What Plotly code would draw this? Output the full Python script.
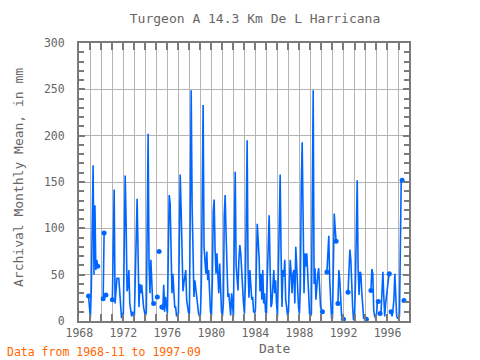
import numpy as np
import pandas as pd
import plotly.graph_objects as go

nan = None
# Monthly values (mm), Jan..Dec per year; 1968 starts in Nov, 1997 ends in Sep
y1968 = [27, 14]
y1969 = [3, 35, 116, 168, 50, 125, 55, 66, 59, nan, nan, nan]
y1970 = [nan, nan, 24, 95, nan, 28, nan, nan, nan, nan, nan, nan]
y1971 = [23, 83, 142, 19, 40, 46, 46, 46, 32, 15, 3, 8]
y1972 = [8, 84, 157, 107, 32, 37, 55, 19, 10, 5, 10, 6]
y1973 = [6, 59, 120, 132, 78, 15, 40, 30, 39, 23, 15, 10]
y1974 = [5, 10, 113, 202, 62, 30, 66, 35, 19, 19, nan, nan]
y1975 = [nan, 26, nan, 75, nan, nan, 15, 12, 39, 10, 26, 15]
y1976 = [8, 73, 136, 127, 57, 30, 51, 37, 15, 15, 5, 7]
y1977 = [8, 87, 158, 120, 59, 32, 41, 48, 55, 23, 12, 9]
y1978 = [8, 131, 249, 123, 51, 26, 44, 33, 30, 15, 8, 5]
y1979 = [6, 41, 158, 233, 80, 60, 51, 75, 44, 55, 26, 10]
y1980 = [5, 44, 118, 131, 78, 51, 73, 50, 30, 62, 23, 10]
y1981 = [5, 19, 113, 136, 95, 44, 26, 30, 19, 6, 30, 12]
y1982 = [5, 100, 161, 60, 40, 33, 66, 82, 73, 51, 30, 19]
y1983 = [8, 40, 111, 195, 55, 25, 55, 30, 23, 26, 10, 9]
y1984 = [12, 59, 105, 87, 69, 32, 51, 23, 55, 19, 30, 10]
y1985 = [8, 51, 95, 114, 59, 15, 19, 48, 55, 30, 44, 19]
y1986 = [5, 55, 134, 158, 73, 15, 55, 48, 66, 23, 15, 6]
y1987 = [10, 37, 66, 51, 30, 51, 55, 19, 80, 59, 30, 15]
y1988 = [8, 37, 145, 193, 113, 30, 73, 59, 73, 51, 26, 8]
y1989 = [5, 8, 131, 249, 40, 57, 23, 44, 51, 57, 40, 15]
y1990 = [12, 10, nan, nan, nan, nan, 53, 75, 92, 45, 10, 3]
y1991 = [3, 59, 116, 100, 86, nan, 19, 55, 44, 26, 5, 3]
y1992 = [2, nan, nan, nan, nan, 31, 53, 77, 66, 33, 15, 1]
y1993 = [3, 40, 109, 152, 57, 28, 53, 51, 30, 10, 3, 3]
y1994 = [2, 2, nan, nan, nan, nan, 33, 56, 51, 12, 5, 3]
y1995 = [6, 21, 21, nan, 8, 10, 30, 53, 26, 5, 19, 30]
y1996 = [40, 45, 51, nan, 10, 5, 12, 23, 51, 17, 5, 3]
y1997 = [3, 5, 123, 152, 152, nan, 22, nan, nan]

years = [y1968, y1969, y1970, y1971, y1972, y1973, y1974, y1975, y1976, y1977,
         y1978, y1979, y1980, y1981, y1982, y1983, y1984, y1985, y1986, y1987,
         y1988, y1989, y1990, y1991, y1992, y1993, y1994, y1995, y1996, y1997]
values = [v for yr in years for v in yr]
dates = pd.date_range("1968-11-01", "1997-09-01", freq="MS")
vals = np.array([np.nan if v is None else v for v in values], dtype=float)

# points next to a gap get a marker
valid = ~np.isnan(vals)
prev_ok = np.r_[False, valid[:-1]]
next_ok = np.r_[valid[1:], False]
edge = valid & (~prev_ok | ~next_ok)

tick_years = list(range(1968, 1998))
tick_vals = [f"{y}-01-01" for y in tick_years]
tick_text = [str(y) if (y - 1968) % 4 == 0 else "" for y in tick_years]

FONT = "DejaVu Sans Mono"
GRAY = "#666666"
FRAME = "#7a7a7a"
BLUE = "#0066ff"

fig = go.Figure()
fig.add_trace(go.Scatter(x=dates, y=vals, mode="lines", connectgaps=False,
                         line=dict(color=BLUE, width=1.6), hoverinfo="skip",
                         showlegend=False))
fig.add_trace(go.Scatter(x=dates[edge], y=vals[edge], mode="markers",
                         marker=dict(color=BLUE, size=5, symbol="circle"),
                         hoverinfo="skip", showlegend=False))

fig.update_layout(
    width=480, height=360,
    margin=dict(l=79, r=71, t=43, b=39),
    paper_bgcolor="white", plot_bgcolor="white",
    font=dict(family=FONT, color=GRAY, size=11),
    title=dict(text="Turgeon A 14.3 Km De L Harricana", x=255/480, xanchor="center",
               y=1 - 18/360, yanchor="middle", font=dict(family=FONT, size=13, color=GRAY)),
    xaxis=dict(type="date", range=["1967-12-20", "1997-12-15"],
               tickmode="array", tickvals=tick_vals, ticktext=tick_text,
               showgrid=True, gridcolor="#b4b4b4", gridwidth=1,
               showline=True, linecolor=FRAME, linewidth=2, mirror="ticks",
               ticks="inside", ticklen=7, tickwidth=2, tickcolor=FRAME,
               tickfont=dict(family=FONT, size=11.5, color=GRAY), zeroline=False),
    yaxis=dict(range=[0, 300], tickmode="array", tickvals=[0, 50, 100, 150, 200, 250, 300],
               showgrid=True, gridcolor="#b4b4b4", gridwidth=1,
               showline=True, linecolor=FRAME, linewidth=2, mirror="ticks",
               ticks="inside", ticklen=6, tickwidth=2, tickcolor=FRAME,
               minor=dict(dtick=10, ticks="inside", ticklen=5, tickwidth=2, tickcolor=FRAME,
                          showgrid=False),
               ticklabelstandoff=10,
               tickfont=dict(family=FONT, size=11.5, color=GRAY), zeroline=False),
    annotations=[
        dict(text="Date", xref="paper", yref="paper", x=(274-79)/330, y=(321-348)/278,
             xanchor="center", yanchor="middle", showarrow=False,
             font=dict(family=FONT, size=13, color=GRAY)),
        dict(text="Archival Monthly Mean, in mm", xref="paper", yref="paper",
             x=(18-79)/330, y=(321-178)/278, textangle=-90,
             xanchor="center", yanchor="middle", showarrow=False,
             font=dict(family=FONT, size=13, color=GRAY)),
        dict(text="Data from 1968-11 to 1997-09", xref="paper", yref="paper",
             x=(5-79)/330, y=(321-352)/278, xanchor="left", yanchor="middle",
             showarrow=False, font=dict(family=FONT, size=11.5, color="#ff6600")),
    ],
)

fig.write_html("out.html", config={"displayModeBar": False},
               post_script="document.body.style.margin='0';")
